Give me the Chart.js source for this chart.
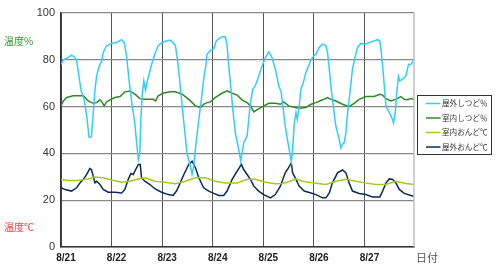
<!DOCTYPE html>
<html><head><meta charset="utf-8">
<script src="https://cdn.jsdelivr.net/npm/chart.js@4/dist/chart.umd.min.js"></script>
<style>html,body{margin:0;padding:0;background:#fff;}#c{display:block;}</style>
</head><body>
<canvas id="c" width="500" height="273"></canvas>
<script>
const dayLabels = ['8/21','8/22','8/23','8/24','8/25','8/26','8/27'];
const yTicks = [0,20,40,60,80,100];
const seriesNames = ['屋外しつど％','室内しつど％','室内おんど℃','屋外おんど℃'];

// hours since 8/21 00:00
const outHumHours = [0,1.1,3.5,5,6.6,7.4,8.5,9.5,11,12.2,13.3,14.4,15.2,16.1,16.9,18,19.3,20,21.6,24,26.4,28.8,30,31.1,32.2,33.8,34.8,35.9,36.7,37.4,37.9,38.5,39.3,40.1,41,43,44.5,46.1,48,50,51.7,53.2,54.3,55.1,55.9,57.2,58.3,59.8,61.4,62.2,63,64.1,65.4,66.6,67.7,68.8,69.3,70.9,72.5,73.6,74.8,76.4,78,78.8,79.6,80.4,81.5,82.7,84.3,85.3,85.9,86.7,87.5,88.3,89.1,89.9,91,92.2,93.8,95.4,97,98.6,100.1,101.7,103.3,104.5,105.3,106.4,108,109.3,109.9,110.7,111.5,112.1,113,113.8,114.9,116.2,117.5,118.6,120,121,122.5,124.1,125.7,126.5,127.3,128.4,129.6,130.4,132,132.8,133.6,134.4,135.2,136,137.1,138.3,139.5,140.7,142.3,144.2,146.3,148.6,150.2,151.3,151.8,152.6,153.4,154.2,155.8,157,157.8,158.6,159.2,160.1,160.8,162,163.6,164.9,166,167.4];
const outHumValues = [78,80,81,82,81,80,73,67,63,56,47,47,56,67,73,77,79.5,83,86,87,87.4,88.6,87.4,81.7,72,60,54.6,44.6,37.4,40,54.6,64.6,71,67,71,78,82.4,86,87.4,88,88.4,87.4,86,81,75,63,53,40,34.6,31,34.6,44.6,54.6,63,71.7,78,82.4,84,84.6,88,89,89.9,89.9,86,77.4,70,59,49,41.7,36.7,40,44.6,46,47.4,54.6,61.7,67.4,68.9,73,77.4,81,83.4,81,76,69,66,60,51.7,43,36.5,41.7,53,57.4,54.6,60,67.4,70,74.6,77.4,80,81.7,82.4,85.3,86.7,86,83,76,66,57.4,51.7,46,42.4,43.9,44.6,48.9,57.4,66,76,81,85.3,87,86.7,87.4,88.1,88.6,88,84.6,77.4,68.9,60,57.4,55.1,53,57.4,64.6,73,71,71.7,73,78,78,80];

const inHumHours = [0,1.1,2.7,5.8,10.6,12.9,15.3,16.9,18.5,19.6,20.5,21.6,23.2,25.6,28,30.3,32.7,35.1,37.4,39.8,43.8,44.9,46.1,48.5,51.7,54.3,57.5,60.6,63.8,66.2,67.7,69.3,70.9,73.3,76.4,78.8,81.2,83.6,85.9,88.3,89.9,91.5,93,95.4,98.6,101.7,104.1,105.7,108,111.2,113,116.2,118.6,121,124.1,126.5,128.1,130.4,133.6,136.7,139.1,141.5,144.6,148.6,151.3,152.6,154.2,156.5,158.9,161.3,162.9,164.5,166,167.4];
const inHumValues = [60.3,62.4,63.9,64.6,64.6,62.4,61.4,61.7,62.9,61.7,60.3,62,62.9,63.9,64.3,66.3,66.7,65.3,63.4,63.1,63.1,62.4,64.6,65.7,66.3,66.3,65.3,63.1,60.3,59.6,61,61.7,62,63.9,65.7,66.7,65.7,64.9,62.9,61.7,60.3,57.7,58.6,59.9,61.4,61.4,61,62,60.3,59.6,59.3,59.6,61,61.7,62.9,63.9,63.1,62.4,61,60,61.4,63.1,64.3,64.3,65.3,64.9,63.4,62.4,63.1,64.3,63.1,62.9,63.4,63.1];

const inTempHours = [0,3.5,8.2,12.9,16.1,20,24,28.8,32.7,36.7,39.8,44.5,49.3,54.3,59,63.8,68.5,73.3,78,83.6,88.3,92.2,97,101.7,104.9,108.8,111.5,114.6,120,125.7,130.4,135.2,139.9,144.2,149.4,154.2,158.9,163.6,167.4];
const inTempValues = [28.9,28.4,28.4,29.1,29.9,29.6,28.6,27.7,28.1,29.1,29.6,28.1,27.7,27,28.1,29.6,29.6,28.1,27.4,27.4,28.9,28.9,27.7,27,27.1,28.1,29.1,28.1,27.4,26.7,28.1,28.9,28.1,27.4,26.7,26.7,28.1,27.1,26.7];

const outTempHours = [0,1.9,5,7.4,9,10.6,12.2,13.7,14.5,15.3,16.1,16.9,18.5,20,22.4,25.6,28.8,30.3,31.9,33.2,34.3,35.4,36.7,37.6,38.2,39.8,42.2,44.5,47.7,50.9,53.2,54.8,55.9,58.3,60.6,62.2,63.8,65.4,67.7,70.1,72.5,74.8,77.2,78.8,81.2,83.6,85.6,86.7,88.3,89.9,91.5,93.8,96.2,99.4,101.7,104.1,106.4,108,109.3,109.9,111.5,113,115.4,118.6,121,124.1,125.7,127.3,128.8,131.2,133.6,135.2,136.7,138.3,141.5,144.6,147.8,151.3,152.6,154.2,155.8,157.4,158.9,160.5,162.9,166,167.4];
const outTempValues = [25.3,24.6,23.9,25.3,27.4,28.9,31,33.6,32.9,30.3,27.4,28.1,26.7,24.6,23.4,23.4,23.1,24.6,28.9,31.4,31,33.1,35.3,35.3,29.6,28.1,26.7,24.9,23.4,22.4,22,23.9,26,31,35.3,36.7,33.9,29.6,25.3,23.9,22.9,22,22,23.9,28.9,32.4,35.3,33.1,31,28.9,26,23.9,22.4,21,22.4,26,31.7,33.9,36,31.7,28.9,26,23.9,23.1,22.4,21,21,23.1,27.4,31.7,32.9,31.7,27.4,23.9,22.9,22.4,21.4,21.4,23.9,27.4,29.1,28.9,27.4,24.6,22.9,22,21.7];

const seriesColors = ['#33ccff','#2e8b22','#a0cc1e','#0c2a5c'];

function pts(hs, vs){ return hs.map((h,i)=>({x:h, y:vs[i]})); }

const extras = {
  id:'extras',
  afterDraw(chart){
    const ctx = chart.ctx, a = chart.chartArea;
    ctx.save();
    // right border
    ctx.strokeStyle = '#c0c0c0'; ctx.lineWidth = 1.5;
    ctx.beginPath(); ctx.moveTo(a.right, a.top); ctx.lineTo(a.right, a.bottom); ctx.stroke();
    // axis titles
    ctx.font = '10px "Noto Sans CJK JP", sans-serif';
    ctx.textBaseline = 'middle'; ctx.textAlign = 'left';
    ctx.fillStyle = '#2f9a2f'; ctx.fillText('温度%', 4, 41);
    ctx.fillStyle = '#ff3b3b'; ctx.fillText('温度℃', 4, 227);
    ctx.fillStyle = '#555'; ctx.font = '11px "Noto Sans CJK JP", sans-serif';
    ctx.fillText('日付', 416, 258);
    // legend
    const lx = 417.5, ly = 95.5, lw = 74, lh = 59;
    ctx.fillStyle = '#fff'; ctx.fillRect(lx, ly, lw, lh);
    ctx.strokeStyle = '#333'; ctx.lineWidth = 1;
    ctx.strokeRect(lx, ly, lw, lh);
    ctx.font = '7.6px "Noto Sans CJK JP", sans-serif';
    chart.data.datasets.forEach((ds, i) => {
      const y = 103.5 + i * 14.5;
      ctx.strokeStyle = ds.borderColor; ctx.lineWidth = 1.5;
      ctx.beginPath(); ctx.moveTo(426, y); ctx.lineTo(440.5, y); ctx.stroke();
      ctx.fillStyle = '#333'; ctx.fillText(ds.label, 442, y);
    });
    ctx.restore();
  }
};

new Chart(document.getElementById('c'), {
  type: 'line',
  data: {
    datasets: [
      {label: seriesNames[0], data: pts(outHumHours, outHumValues), borderColor: seriesColors[0]},
      {label: seriesNames[1], data: pts(inHumHours, inHumValues), borderColor: seriesColors[1]},
      {label: seriesNames[2], data: pts(inTempHours, inTempValues), borderColor: seriesColors[2]},
      {label: seriesNames[3], data: pts(outTempHours, outTempValues), borderColor: seriesColors[3]}
    ].map(d => Object.assign(d, {borderWidth: 1.5, pointRadius: 0, tension: 0, fill: false}))
  },
  options: {
    responsive: false,
    animation: false,
    layout: {padding: {top: 13, right: 86, left: 0, bottom: 0}},
    plugins: {legend: {display: false}, tooltip: {enabled: false}},
    scales: {
      x: {
        type: 'linear', min: 0, max: 167.5,
        afterBuildTicks(s){ s.ticks = dayLabels.map((_, i) => ({value: i * 24})); },
        afterFit(s){ s.height = 26; },
        ticks: {
          callback: v => dayLabels[Math.round(v / 24)],
          font: {family: '"Liberation Sans", Arial, sans-serif', size: 10, weight: 'bold'},
          color: '#222', padding: 5, labelOffset: 5, maxRotation: 0, autoSkip: false
        },
        grid: {color: '#555', lineWidth: 1, drawTicks: false},
        border: {color: '#333', width: 1.5}
      },
      y: {
        min: 0, max: 100,
        afterBuildTicks(s){ s.ticks = yTicks.map(v => ({value: v})); },
        afterFit(s){ s.width = 61; },
        ticks: {
          font: {family: '"Liberation Sans", Arial, sans-serif', size: 11},
          color: '#333', padding: 6
        },
        grid: {color: '#888', lineWidth: 1.2, drawTicks: false},
        border: {color: '#333', width: 1.5}
      }
    }
  },
  plugins: [extras]
});
</script>
</body></html>
